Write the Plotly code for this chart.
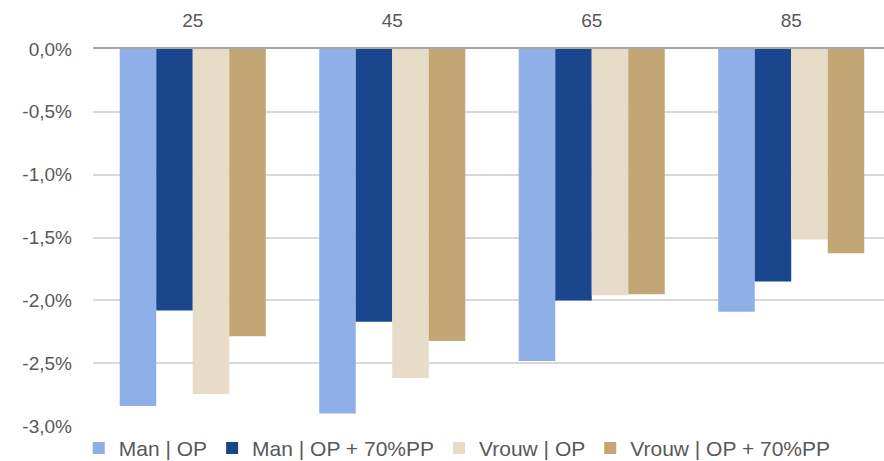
import plotly.graph_objects as go

categories = ["25", "45", "65", "85"]
man_op = [-2.841, -2.900, -2.483, -2.091]
man_op_pp = [-2.080, -2.170, -2.001, -1.850]
vrouw_op = [-2.746, -2.618, -1.959, -1.516]
vrouw_op_pp = [-2.285, -2.324, -1.951, -1.625]

series_names = ["Man | OP", "Man | OP + 70%PP", "Vrouw | OP", "Vrouw | OP + 70%PP"]
series_values = [man_op, man_op_pp, vrouw_op, vrouw_op_pp]
colors = ["#8FAFE8", "#1A468E", "#E6DCC8", "#C2A673"]

y_tickvals = [0, -0.5, -1.0, -1.5, -2.0, -2.5, -3.0]
y_ticktext = ["0,0%", "-0,5%", "-1,0%", "-1,5%", "-2,0%", "-2,5%", "-3,0%"]

fig = go.Figure()
for name, vals, col in zip(series_names, series_values, colors):
    fig.add_trace(go.Bar(x=categories, y=vals, name=name,
                         marker=dict(color=col, line=dict(width=0))))

font_family = "Liberation Sans, Arial, sans-serif"
fig.update_layout(
    width=884, height=461,
    margin=dict(l=93, r=0, t=49, b=35, autoexpand=False),
    paper_bgcolor="white", plot_bgcolor="white",
    barmode="group", bargap=0.268, bargroupgap=0,
    font=dict(family=font_family, size=19, color="#595959"),
    showlegend=True,
    legend=dict(orientation="h", x=-0.018, xanchor="left", y=-0.005, yanchor="top",
                font=dict(size=21, color="#595959"), traceorder="normal",
                itemclick=False, bgcolor="rgba(0,0,0,0)"),
    xaxis=dict(type="category", side="top", range=[-0.5, 3.465], automargin=False,
               showgrid=False, showline=True, linecolor="#A6A6A6", linewidth=2,
               ticks="", ticklabelstandoff=12, tickfont=dict(size=19, color="#595959")),
    yaxis=dict(range=[-3.0, 0], tickvals=y_tickvals, ticktext=y_ticktext, automargin=False,
               showgrid=True, gridcolor="#D9D9D9", gridwidth=1.5,
               zeroline=False, showline=False, ticks="",
               ticklabelstandoff=20, tickfont=dict(size=19, color="#595959")),
)

fig.write_html("out.html", config={"displayModeBar": False},
               post_script="document.body.style.margin='0';document.body.style.overflow='hidden';")
